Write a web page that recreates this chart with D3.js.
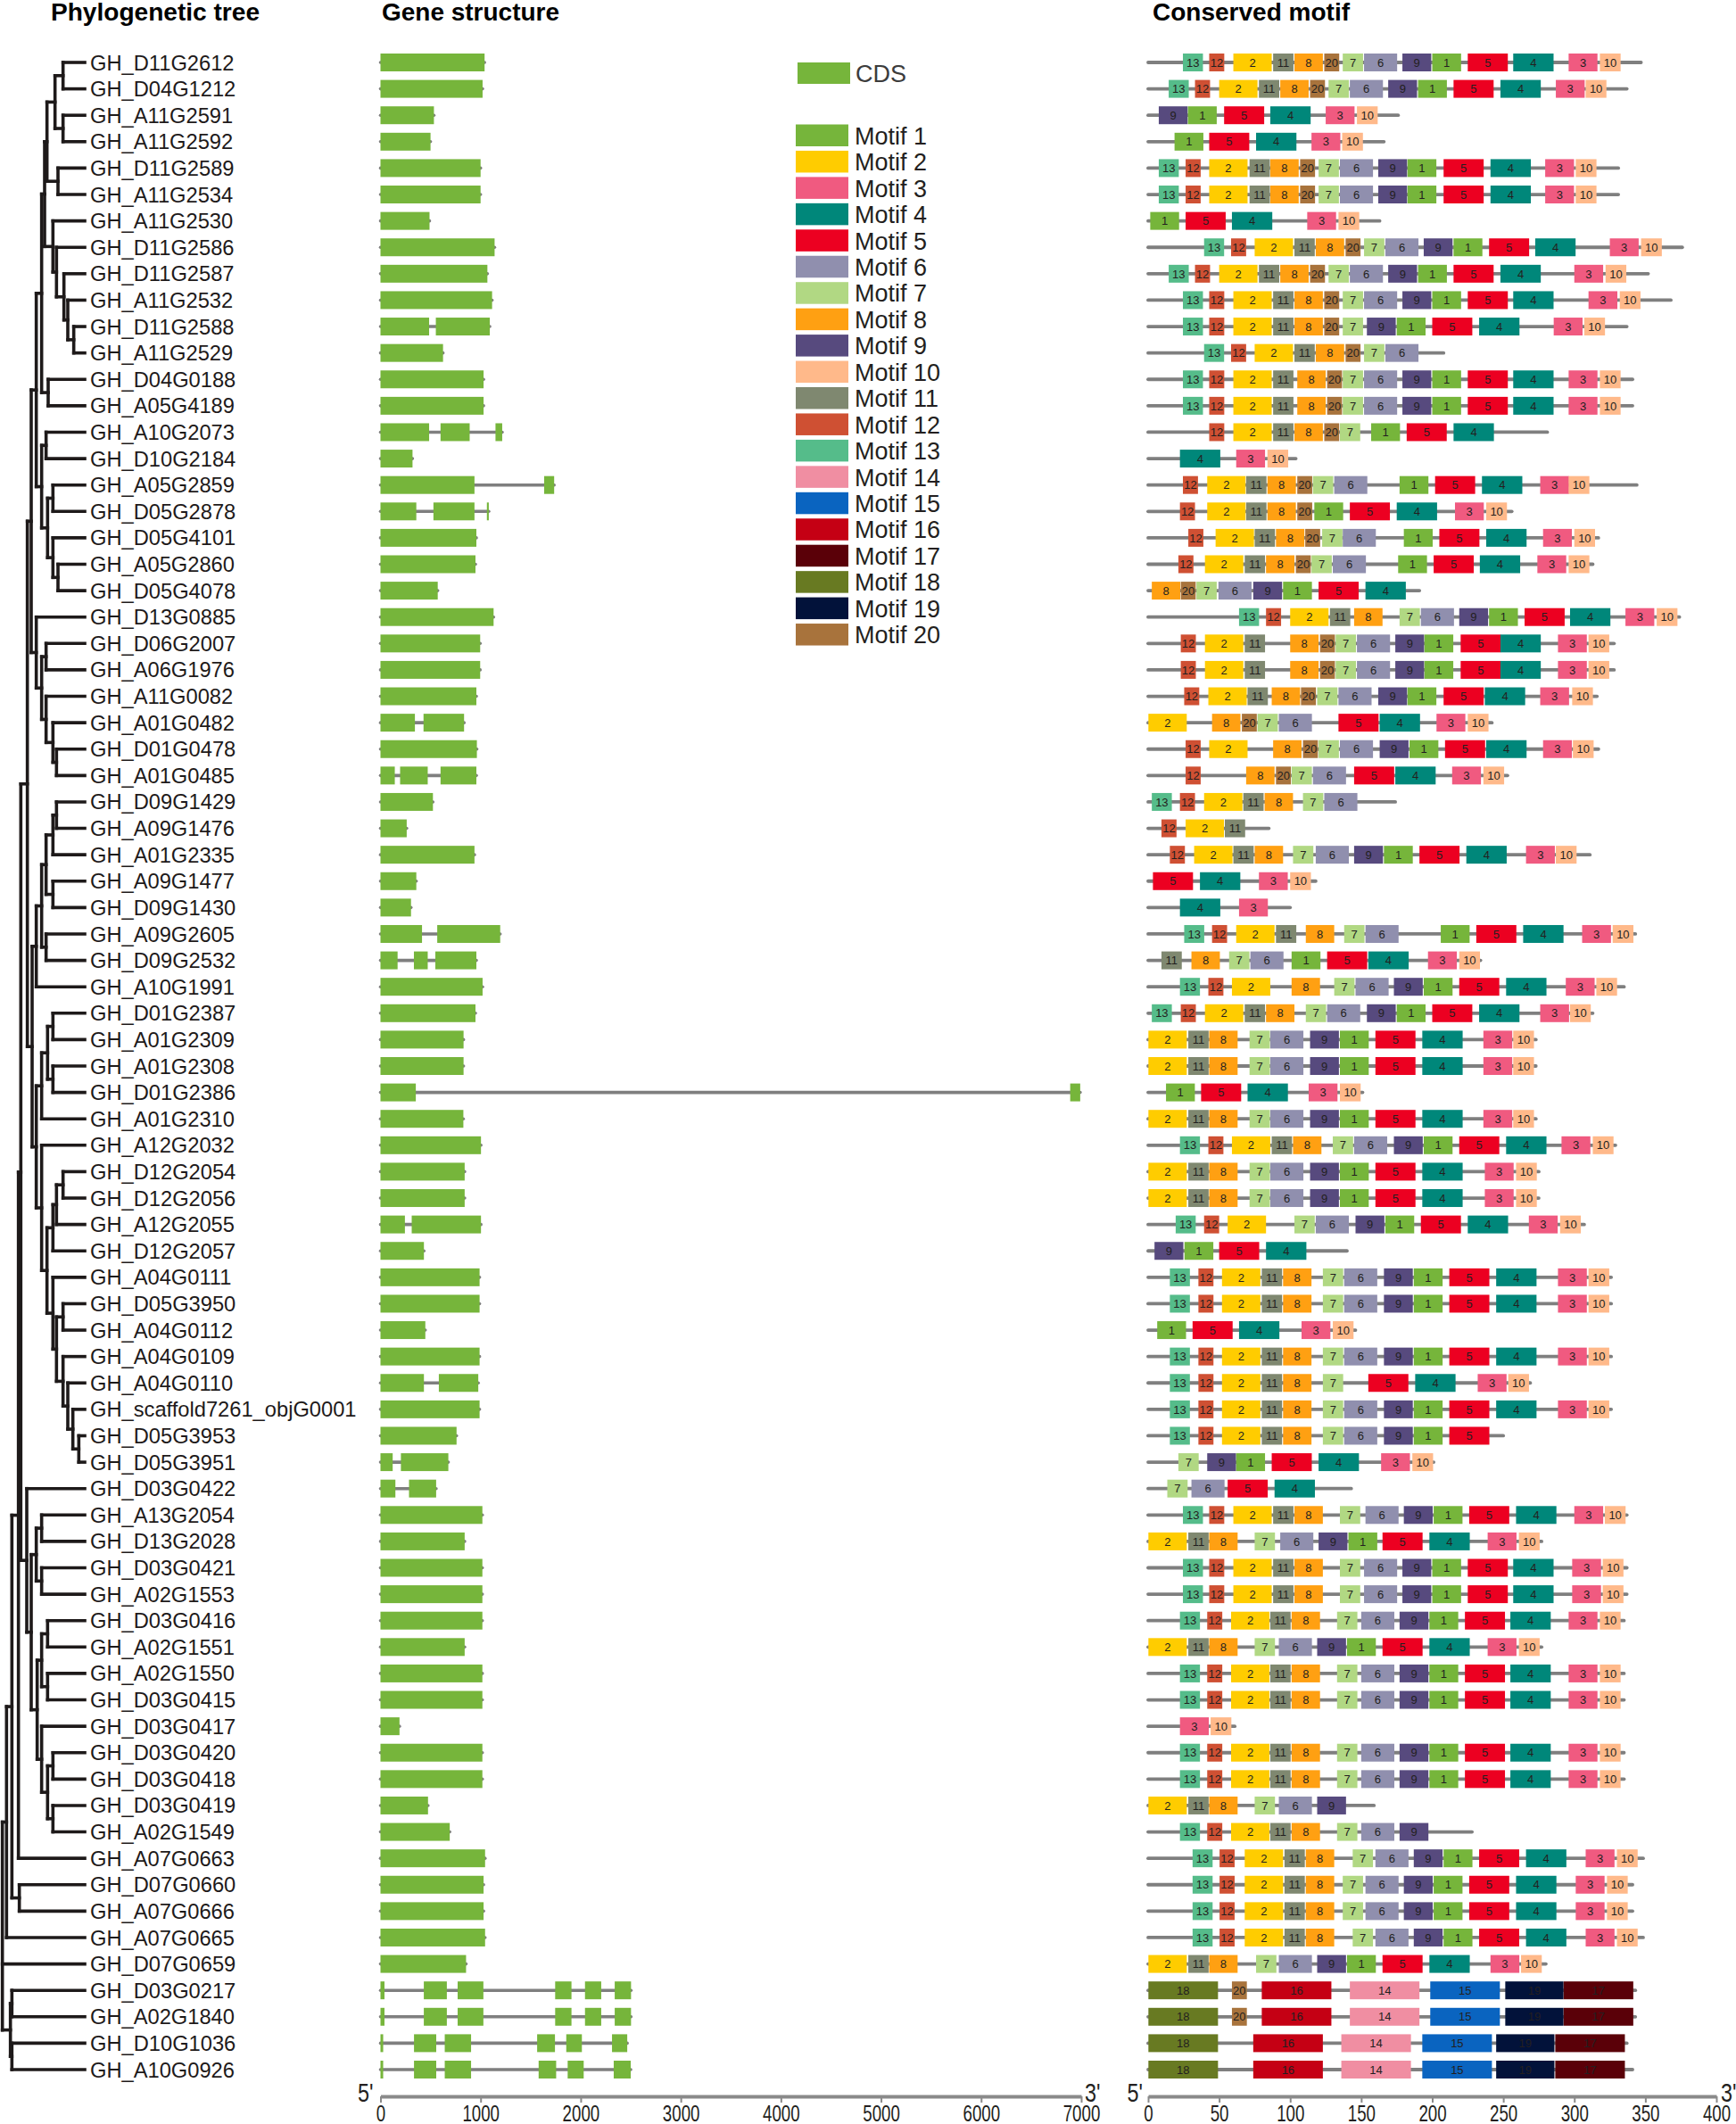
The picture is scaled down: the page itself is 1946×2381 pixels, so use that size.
<!DOCTYPE html>
<html><head><meta charset="utf-8">
<script src="https://cdn.jsdelivr.net/npm/d3@7"></script>
<style>body{margin:0;background:#fff;} svg{display:block;}</style>
</head><body>
<svg id="chart" width="1946" height="2381"></svg>
<script>
// ---------------- DATA ----------------
const genes = ["GH_D11G2612","GH_D04G1212","GH_A11G2591","GH_A11G2592","GH_D11G2589","GH_A11G2534","GH_A11G2530","GH_D11G2586","GH_D11G2587","GH_A11G2532","GH_D11G2588","GH_A11G2529","GH_D04G0188","GH_A05G4189","GH_A10G2073","GH_D10G2184","GH_A05G2859","GH_D05G2878","GH_D05G4101","GH_A05G2860","GH_D05G4078","GH_D13G0885","GH_D06G2007","GH_A06G1976","GH_A11G0082","GH_A01G0482","GH_D01G0478","GH_A01G0485","GH_D09G1429","GH_A09G1476","GH_A01G2335","GH_A09G1477","GH_D09G1430","GH_A09G2605","GH_D09G2532","GH_A10G1991","GH_D01G2387","GH_A01G2309","GH_A01G2308","GH_D01G2386","GH_A01G2310","GH_A12G2032","GH_D12G2054","GH_D12G2056","GH_A12G2055","GH_D12G2057","GH_A04G0111","GH_D05G3950","GH_A04G0112","GH_A04G0109","GH_A04G0110","GH_scaffold7261_objG0001","GH_D05G3953","GH_D05G3951","GH_D03G0422","GH_A13G2054","GH_D13G2028","GH_D03G0421","GH_A02G1553","GH_D03G0416","GH_A02G1551","GH_A02G1550","GH_D03G0415","GH_D03G0417","GH_D03G0420","GH_D03G0418","GH_D03G0419","GH_A02G1549","GH_A07G0663","GH_D07G0660","GH_A07G0666","GH_A07G0665","GH_D07G0659","GH_D03G0217","GH_A02G1840","GH_D10G1036","GH_A10G0926"];

// Tree (Newick; internal-node labels = node depth, leaves at treeLeafDepth)
const treeLeafDepth = 285;
const treeC1 = "(((((GH_D11G2612,GH_D04G1212)212,(GH_A11G2591,GH_A11G2592)212)185,(GH_D11G2589,GH_A11G2534)195)158,(GH_A11G2530,(GH_D11G2586,(GH_D11G2587,(GH_A11G2532,(GH_D11G2588,GH_A11G2529)248)228)215)190)178)150,(GH_D04G0188,GH_A05G4189)162)140";
const treeC2 = "((GH_A10G2073,GH_D10G2184)155,((GH_A05G2859,GH_D05G2878)178,(GH_D05G4101,(GH_A05G2860,GH_D05G4078)195)178)160)140";
const treeC3 = "(GH_D13G0885,((GH_D06G2007,GH_A06G1976)155,(GH_A11G0082,(GH_A01G0482,(GH_D01G0478,GH_A01G0485)190)178)155)140)122";
const treeC4 = "(((((GH_D09G1429,GH_A09G1476)190,GH_A01G2335)178,(GH_A09G1477,GH_D09G1430)178)155,(GH_A09G2605,GH_D09G2532)155)140,GH_A10G1991)122";
const treeC5 = "(((GH_D01G2387,GH_A01G2309)178,(GH_A01G2308,GH_D01G2386)178)160,GH_A01G2310)140";
const treeC6 = "(GH_A12G2032,((((GH_D12G2054,GH_D12G2056)212,GH_A12G2055)190,GH_D12G2057)178,(GH_A04G0111,((GH_D05G3950,GH_A04G0112)212,(GH_A04G0109,(GH_A04G0110,(GH_scaffold7261_objG0001,(GH_D05G3953,GH_D05G3951)265)245)228)212)190)178)158)140";
const treeC7 = "(GH_D03G0422,(((GH_A13G2054,GH_D13G2028)140,(GH_D03G0421,GH_A02G1553)140)122,(((GH_D03G0416,GH_A02G1551)160,(GH_A02G1550,GH_D03G0415)160)140,(GH_D03G0417,((GH_D03G0420,GH_D03G0418)178,(GH_D03G0419,GH_A02G1549)178)160)140)125)105)90";
const treeB = "((GH_D03G0217,GH_A02G1840)40,(GH_D10G1036,GH_A10G0926)40)35";
const treeNewick = `((((((((${treeC1},${treeC2})122,${treeC3})105,(${treeC4},(${treeC5},${treeC6})122)108)92,${treeC7})70,GH_A07G0663)62,(GH_D07G0660,GH_A07G0666)65)40,GH_A07G0665)22,GH_D07G0659,${treeB})8`;

// Gene structure: exons (bp) "start-end"
const geneExons = [
"0-1040","0-1020","0-534","0-500","0-1000","0-1000","0-490","0-1140","0-1068","0-1115",
"0-486 553-1092","0-625","0-1030","0-1030","0-486 600-891 1149-1216","0-320","0-939 1635-1735","0-358 529-939 1063-1082","0-958","0-949",
"0-572","0-1130","0-996","0-996","0-958","0-344 430-835","0-963","0-143 196-472 600-958","0-524","0-262",
"0-939","0-358","0-305","0-415 567-1196","0-171 334-472 548-958","0-1020","0-949","0-830","0-830","0-353 6890-6990",
"0-828","0-1004","0-841","0-841","0-244 312-1004","0-434","0-990","0-990","0-448","0-990",
"0-434 583-977","0-990","0-760","0-122 204-678","0-149 285-556","0-1018","0-841","0-1018","0-1018","0-1018",
"0-841","0-1018","0-1018","0-190","0-1018","0-1018","0-475","0-692","0-1045","0-1030",
"0-1030","0-1045","0-855","0-40 433-663 771-1028 1745-1908 2043-2205 2340-2503","0-40 433-663 771-1028 1745-1908 2043-2205 2340-2503","0-27 335-557 642-905 1565-1743 1856-2012 2313-2465","0-27 335-557 642-905 1580-1755 1870-2030 2330-2500"
];
const geneTicks = [0,1000,2000,3000,4000,5000,6000,7000];

// Motifs
const motifNames = ["Motif 1","Motif 2","Motif 3","Motif 4","Motif 5","Motif 6","Motif 7","Motif 8","Motif 9","Motif 10","Motif 11","Motif 12","Motif 13","Motif 14","Motif 15","Motif 16","Motif 17","Motif 18","Motif 19","Motif 20"];
const motifColors = ["#76b53b","#ffcc00","#f05a80","#00877a","#ec0021","#908fae","#b1d883","#ffa012","#574a7e","#ffb98a","#7f8870","#cf5033","#55bc8a","#f08ea2","#0a64c0","#c50014","#5a0008","#687a22","#02123a","#a8733c"];
const motifLengths = [20.3,27,20.3,28.4,28.2,23.3,14.3,20,20.3,14.6,14.3,10.6,14.1,49,49,49,49,49,41,10.5];
const proteinLengths = [347,337,176,166,331,331,163,376,352,368,337,208,341,341,281,104,344,256,317,313,191,374,328,328,316,242,317,253,174,85,311,118,100,343,234,335,313,273,273,151,273,329,275,275,307,140,326,326,146,326,269,326,250,201,143,337,277,337,337,335,277,335,335,61,335,335,159,228,348.5,341,341,348.5,280,343,343,337,341];
const motifSites = [
"13:24.5 12:43 2:60 11:88 8:103 20:124 7:137 6:152 9:179 1:200 5:225 4:257 3:296 10:318",
"13:14.5 12:33 2:50 11:78 8:93 20:114 7:127 6:142 9:169 1:190 5:215 4:248 3:287 10:308",
"9:7.5 1:28 5:53.5 4:86 3:125 10:147",
"1:18.6 5:43 4:76 3:115 10:136.6",
"13:7.5 12:26.4 2:43 11:71.4 8:86 20:107 7:120 6:135 9:162 1:182.6 5:208 4:241 3:279.5 10:301",
"13:7.5 12:26.4 2:43 11:71.4 8:86 20:107 7:120 6:135 9:162 1:182.6 5:208 4:241 3:279.5 10:301",
"1:1.5 5:26.4 4:59 3:112 10:134",
"13:39.4 12:58.4 2:75 11:103 8:118 20:139 7:152 6:167 9:194 1:215 5:240 4:272.5 3:325 10:347",
"13:14.5 12:33 2:50 11:78 8:93 20:114 7:127 6:142 9:169 1:190 5:215 4:248 3:300 10:322",
"13:24.5 12:43 2:60 11:88 8:103 20:124 7:137 6:152 9:179 1:200 5:225 4:257 3:310 10:332",
"13:24.5 12:43 2:60 11:88 8:103 20:124 7:137 9:154 1:175 5:200 4:233 3:285.5 10:307",
"13:39.4 12:58.4 2:75 11:103 8:118 20:139 7:152 6:167",
"13:24.5 12:43 2:60 11:88 8:105 20:126 7:137 6:152 9:179 1:200 5:225 4:257 3:296 10:318",
"13:24.5 12:43 2:60 11:88 8:105 20:126 7:137 6:152 9:179 1:200 5:225 4:257 3:296 10:318",
"12:43 2:60 11:88 8:103 20:124 7:135 1:157 5:182 4:215",
"4:22.4 3:62 10:84",
"12:24.5 2:41.6 11:69 8:84 20:105 7:116 6:131 1:177 5:202 4:235 3:276 10:296",
"12:22.4 2:41.6 11:69 8:84 20:105 1:117 5:142 4:175 3:216 10:238",
"12:28.3 2:47.5 11:75 8:90 20:110.6 7:122.5 6:137 1:180 5:205 4:238 3:278 10:300",
"12:21.3 2:40 11:68 8:83 20:104 7:115 6:130 1:176 5:201 4:233.5 3:274 10:296",
"8:2.6 20:23 7:34 6:49.5 9:74 1:95 5:120 4:153",
"13:64 12:83 2:100 11:128 8:145 7:177 6:192 9:219 1:240 5:265 4:297 3:336 10:358",
"12:23 2:40 11:68 8:100 20:121 7:132 6:147 9:174 1:194.5 5:220 4:248 3:288.5 10:310",
"12:23 2:40 11:68 8:100 20:121 7:132 6:147 9:174 1:194.5 5:220 4:248 3:288.5 10:310",
"12:25.4 2:42.4 11:70 8:87 20:107.6 7:119 6:134 9:162 1:182.6 5:208 4:237 3:276 10:298.5",
"2:0.2 8:45 20:66 7:77 6:92 5:134 4:163 3:203 10:225",
"12:26.4 2:43 8:88 20:109 7:120 6:135 9:163 1:184 5:209 4:238 3:278 10:299",
"12:26.4 8:69 20:90 7:101 6:116 5:145 4:174 3:214 10:236",
"13:2.6 12:22.4 2:39.4 11:67 8:82 7:109 6:124",
"12:9.4 2:26.4 11:54",
"12:15.3 2:32.4 11:60 8:75 7:102 6:118 9:145 1:166 5:191 4:224 3:266 10:287",
"5:3.4 4:36.5 3:78 10:100",
"4:22.4 3:64",
"13:25.4 12:45 2:62 11:90 8:111 7:138 6:153 1:206 5:231 4:264 3:305.5 10:327",
"11:9.4 8:30.5 7:57 6:72 1:101 5:126 4:155 3:197 10:219",
"13:22.4 12:42.4 2:59 8:101 7:131 6:146 9:173 1:194 5:219 4:252 3:294 10:315.5",
"13:2.6 12:23 2:40 11:68 8:83 7:111 6:126 9:154 1:175 5:200 4:233 3:276 10:297",
"2:0.2 11:28.3 8:43 7:71.4 6:86 9:114 1:135 5:160 4:193 3:236 10:257",
"2:0.2 11:28.3 8:43 7:71.4 6:86 9:114 1:135 5:160 4:193 3:236 10:257",
"1:12.6 5:37.3 4:70 3:113 10:135",
"2:0.2 11:28.3 8:43 7:71.4 6:86 9:114 1:135 5:160 4:193 3:236 10:257",
"13:22.4 12:42.4 2:59 11:87 8:102 7:130 6:145 9:173 1:194 5:219 4:252 3:291 10:313",
"2:0.2 11:28.3 8:43 7:71.4 6:86 9:114 1:135 5:160 4:193 3:237 10:259",
"2:0.2 11:28.3 8:43 7:71.4 6:86 9:114 1:135 5:160 4:193 3:237 10:259",
"13:19.4 12:39.4 2:56 7:103 6:118 9:146 1:167 5:192 4:225 3:268 10:290",
"9:4.5 1:25.6 5:50 4:83",
"13:15.3 12:35.4 2:52 11:80 8:95 7:123 6:138 9:166 1:187 5:212 4:245 3:288.5 10:310",
"13:15.3 12:35.4 2:52 11:80 8:95 7:123 6:138 9:166 1:187 5:212 4:245 3:288.5 10:310",
"1:6.4 5:31.3 4:64 3:108 10:130",
"13:15.3 12:35.4 2:52 11:80 8:95 7:123 6:138 9:166 1:187 5:212 4:245 3:288.5 10:310",
"13:15.3 12:35.4 2:52 11:80 8:95 7:123 5:155 4:188 3:232 10:253.5",
"13:15.3 12:35.4 2:52 11:80 8:95 7:123 6:138 9:166 1:187 5:212 4:245 3:288.5 10:310",
"13:15.3 12:35.4 2:52 11:80 8:95 7:123 6:138 9:166 1:187 5:212",
"7:21.3 9:41.6 1:62 5:87 4:120 3:164 10:186",
"7:13.5 6:30.5 5:56 4:89",
"13:24.5 12:43 2:60 11:88 8:103 7:135 6:153 9:180 1:201 5:226 4:259 3:300 10:321.5",
"2:0.2 11:28.3 8:43 7:75 6:93 9:120 1:141 5:165 4:198 3:239 10:261",
"13:24.5 12:43 2:60 11:88 8:103 7:135 6:152 9:179 1:200 5:225 4:257 3:298.5 10:320",
"13:24.5 12:43 2:60 11:88 8:103 7:135 6:152 9:179 1:200 5:225 4:257 3:298.5 10:320",
"13:22.4 12:41.6 2:58.4 11:86 8:101 7:133 6:150 9:177 1:198 5:223 4:255 3:296 10:318",
"2:0.2 11:28.3 8:43 7:75 6:92 9:119 1:140 5:165 4:198 3:239 10:261",
"13:22.4 12:41.6 2:58.4 11:86 8:101 7:133 6:150 9:177 1:198 5:223 4:255 3:296 10:318",
"13:22.4 12:41.6 2:58.4 11:86 8:101 7:133 6:150 9:177 1:198 5:223 4:255 3:296 10:318",
"3:22.4 10:44",
"13:22.4 12:41.6 2:58.4 11:86 8:101 7:133 6:150 9:177 1:198 5:223 4:255 3:296 10:318",
"13:22.4 12:41.6 2:58.4 11:86 8:101 7:133 6:150 9:177 1:198 5:223 4:255 3:296 10:318",
"2:0.2 11:28.3 8:43 7:75 6:92 9:119",
"13:22.4 12:41.6 2:58.4 11:86 8:101 7:133 6:150 9:177",
"13:31.3 12:50.3 2:68 11:96 8:111 7:144 6:160 9:187 1:208 5:233 4:266 3:308 10:330",
"13:31.3 12:50.3 2:68 11:96 8:111 7:137 6:153 9:180 1:201 5:226 4:259 3:301 10:323",
"13:31.3 12:50.3 2:68 11:96 8:111 7:137 6:153 9:180 1:201 5:226 4:259 3:301 10:323",
"13:31.3 12:50.3 2:68 11:96 8:111 7:144 6:160 9:187 1:208 5:233 4:266 3:308 10:330",
"2:0.2 11:28.3 8:43 7:76 6:92 9:119 1:140 5:165 4:198 3:241 10:262.5",
"18:0.2 20:59 16:80 14:142 15:198.6 19:251.4 17:292.5",
"18:0.2 20:59 16:80 14:142 15:198.6 19:251.4 17:292.5",
"18:0.2 16:74 14:136 15:193 19:245 17:286.6",
"18:0.2 16:74 14:136 15:193 19:245 17:286.6"
];
const motifTicks = [0,50,100,150,200,250,300,350,400];

// ---------------- DRAW ----------------
const FONT = "'Liberation Sans', Arial, Helvetica, sans-serif";
const svg = d3.select("#chart");
svg.append("rect").attr("width",1946).attr("height",2381).attr("fill","#fff");

const yRow = d3.scalePoint().domain(genes).range([70, 2320]);
const treeX = d3.scaleLinear().domain([0, treeLeafDepth]).range([0, 95]);
const geneX = d3.scaleLinear().domain([0, 7000]).range([426.5, 1212]);
const motifX = d3.scaleLinear().domain([0, 400]).range([1287, 1924]);

// headers
[["Phylogenetic tree",57,234],["Gene structure",428,199],["Conserved motif",1292,221]].forEach(([t,x,w])=>{
  svg.append("text").attr("x",x).attr("y",23).attr("font-family",FONT).attr("font-weight","bold")
    .attr("font-size",27).attr("fill","#000").attr("textLength",w).attr("lengthAdjust","spacingAndGlyphs").text(t);
});

// tree
function parseNewick(s){
  let i=0;
  function node(){
    if(s[i]==='('){
      i++; const children=[];
      while(true){ children.push(node()); if(s[i]===','){i++;continue;} if(s[i]===')'){i++;break;} throw new Error("bad newick at "+i); }
      let lab=''; while(i<s.length && /[0-9.]/.test(s[i])) lab+=s[i++];
      return {depth:+lab, children};
    }
    let name=''; while(i<s.length && !/[,()]/.test(s[i])) name+=s[i++];
    return {name, depth:treeLeafDepth};
  }
  return node();
}
const root = d3.hierarchy(parseNewick(treeNewick));
root.eachAfter(n=>{
  n.yy = n.children ? (n.children[0].yy + n.children[n.children.length-1].yy)/2 : yRow(n.data.name);
});
const tg = svg.append("g").attr("stroke","#1e1a1a").attr("stroke-width",3.6).attr("stroke-linecap","square").attr("fill","none");
root.descendants().forEach(n=>{
  if(n.parent) tg.append("line").attr("x1",treeX(n.parent.data.depth)).attr("x2",treeX(n.data.depth)).attr("y1",n.yy).attr("y2",n.yy);
  if(n.children) tg.append("line").attr("x1",treeX(n.data.depth)).attr("x2",treeX(n.data.depth))
    .attr("y1",n.children[0].yy).attr("y2",n.children[n.children.length-1].yy);
});

// gene labels
svg.append("g").selectAll("text").data(genes).join("text")
  .attr("x",101).attr("y",d=>yRow(d)).attr("dy","0.36em")
  .attr("font-family",FONT).attr("font-size",23.7).attr("fill","#1e1a1a").text(d=>d);

// gene structures
const gs = svg.append("g");
genes.forEach((g,i)=>{
  const y = yRow(g);
  const ex = geneExons[i].split(" ").map(s=>s.split("-").map(Number));
  const end = ex[ex.length-1][1];
  gs.append("line").attr("x1",geneX(0)).attr("x2",geneX(end)).attr("y1",y).attr("y2",y)
    .attr("stroke","#7f7f7f").attr("stroke-width",3.6).attr("stroke-linecap","round");
  ex.forEach(([a,b])=>{
    gs.append("rect").attr("x",geneX(a)).attr("y",y-10).attr("width",Math.max(1.5,geneX(b)-geneX(a))).attr("height",20)
      .attr("fill","#76b53b");
  });
});

// motifs
const ms = svg.append("g");
genes.forEach((g,i)=>{
  const y = yRow(g);
  ms.append("line").attr("x1",motifX(0)).attr("x2",motifX(proteinLengths[i])).attr("y1",y).attr("y2",y)
    .attr("stroke","#7f7f7f").attr("stroke-width",3.8).attr("stroke-linecap","round");
  motifSites[i].split(" ").forEach(tok=>{
    const [m,s] = tok.split(":").map(Number);
    const x0 = motifX(s), w = motifX(s+motifLengths[m-1]) - x0;
    ms.append("rect").attr("x",x0).attr("y",y-10).attr("width",w).attr("height",20).attr("fill",motifColors[m-1]);
    ms.append("text").attr("x",x0+w/2).attr("y",y).attr("dy","0.36em").attr("text-anchor","middle")
      .attr("font-family",FONT).attr("font-size",13).attr("fill","#231f20").text(m);
  });
});

// legend
const lg = svg.append("g").attr("font-family",FONT);
lg.append("rect").attr("x",894).attr("y",70).attr("width",59).attr("height",24).attr("fill","#76b53b");
lg.append("text").attr("x",959).attr("y",82).attr("dy","0.36em").attr("font-size",27).attr("fill","#3c3c3c").text("CDS");
motifNames.forEach((n,k)=>{
  const y = 139.5 + k*29.45;
  lg.append("rect").attr("x",892).attr("y",y).attr("width",59).attr("height",24.5).attr("fill",motifColors[k]);
  lg.append("text").attr("x",958).attr("y",y+12.5).attr("dy","0.36em").attr("font-size",27).attr("fill","#231f20").text(n);
});

// axes
function styleAxis(g){
  g.attr("font-family",FONT).attr("font-size",26);
  g.select(".domain").attr("stroke","#8a8a8a").attr("stroke-width",4);
  g.selectAll(".tick line").attr("stroke","#8a8a8a").attr("stroke-width",2);
  g.selectAll(".tick text").attr("fill","#231f20").attr("transform","scale(0.72,1)");
}
const AXY = 2350;
svg.append("g").attr("transform",`translate(0,${AXY})`)
  .call(d3.axisBottom(geneX).tickValues(geneTicks).tickFormat(d3.format("d")).tickSize(7).tickSizeOuter(0).tickPadding(3)).call(styleAxis);
svg.append("g").attr("transform",`translate(0,${AXY})`)
  .call(d3.axisBottom(motifX).tickValues(motifTicks).tickFormat(d3.format("d")).tickSize(7).tickSizeOuter(0).tickPadding(3)).call(styleAxis);

// 5' / 3' end labels
[["5'",geneX.range()[0]-8,"end"],["3'",geneX.range()[1]+4,"start"],["5'",motifX.range()[0]-6,"end"],["3'",motifX.range()[1]+5,"start"]].forEach(([t,x,a])=>{
  const gg = svg.append("g").attr("transform",`translate(${x},${AXY+6}) scale(0.78,1)`);
  gg.append("text").attr("text-anchor",a).attr("font-family",FONT).attr("font-size",30).attr("fill","#231f20").text(t);
});
</script>
</body></html>
